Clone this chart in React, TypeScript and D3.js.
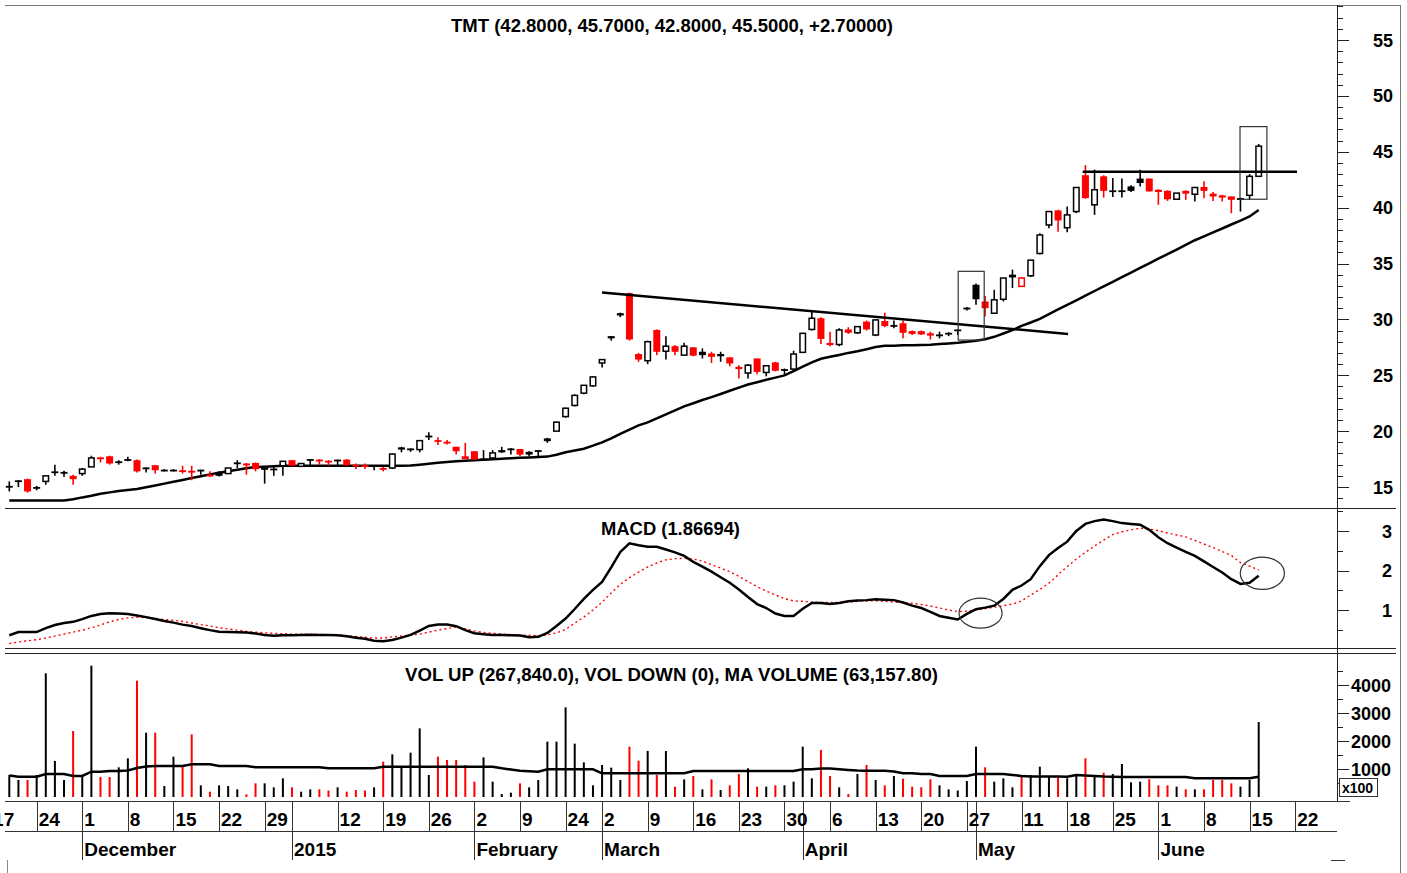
import React, { useEffect, useRef } from 'react';
import * as d3 from 'd3';

// daily bars, mid Nov 2014 .. 16 Jun 2015
const opens = [
  15.1, 15.6, 15.7, 15.0, 15.5, 16.4, 16.35, 16.0, 16.2, 16.8,
  17.65, 17.75, 17.3, 17.5, 17.4, 16.75, 16.95, 16.55, 16.55, 16.5,
  16.45, 16.55, 16.1, 16.35, 16.2, 17.2, 17.1, 17.15, 16.7, 16.65,
  16.9, 17.4, 16.85, 17.5, 17.45, 17.35, 17.45, 17.45, 17.0, 16.95,
  16.95, 16.7, 16.7, 18.55, 18.45, 18.35, 19.6, 19.2, 19.05, 18.6,
  17.75, 18.2, 17.55, 17.6, 18.3, 18.45, 18.4, 18.15, 18.3, 19.35,
  20.0, 21.3, 22.3, 23.4, 24.05, 26.1, 28.5, 30.55, 32.35, 26.9,
  26.3, 29.05, 27.15, 27.6, 26.8, 27.5, 27.1, 26.95, 26.9, 26.6,
  25.75, 25.2, 26.5, 25.25, 26.15, 25.55, 25.55, 27.05, 29.1, 30.1,
  27.9, 27.75, 29.1, 28.8, 29.8, 28.6, 29.85, 29.5, 29.65, 28.95,
  28.95, 28.75, 28.65, 28.8, 29.1, 31.05, 33.1, 31.6, 30.55, 31.8,
  34.0, 32.95, 33.9, 35.9, 38.45, 39.75, 38.2, 39.65, 42.9, 40.25,
  42.8, 41.55, 41.55, 41.9, 42.6, 42.6, 41.6, 41.5, 40.75, 41.5,
  41.2, 41.85, 41.25, 41.1, 41.0, 40.85, 41.1, 42.8,
];
const highs = [
  15.5, 15.6, 15.75, 15.1, 16.0, 17.0, 16.45, 16.1, 16.7, 17.8,
  17.7, 17.8, 17.4, 17.7, 17.45, 16.75, 16.95, 16.6, 16.6, 16.9,
  16.9, 16.55, 16.4, 16.4, 16.7, 17.4, 17.15, 17.2, 16.75, 16.8,
  17.3, 17.4, 17.1, 17.5, 17.5, 17.4, 17.45, 17.5, 17.1, 17.1,
  16.95, 16.8, 18.0, 18.6, 18.45, 19.2, 19.9, 19.45, 19.2, 18.6,
  18.95, 18.2, 18.3, 18.3, 18.6, 18.5, 18.4, 18.2, 18.3, 19.4,
  20.85, 22.1, 23.3, 24.1, 24.9, 26.4, 28.5, 30.6, 32.4, 27.0,
  28.1, 29.1, 28.5, 27.7, 27.9, 27.5, 27.4, 27.1, 27.1, 26.6,
  25.9, 26.0, 26.5, 25.9, 26.2, 25.6, 27.2, 28.8, 30.7, 30.2,
  28.9, 29.2, 29.3, 29.4, 29.9, 30.0, 30.6, 29.9, 29.9, 29.0,
  29.0, 28.9, 28.9, 28.85, 29.1, 31.1, 33.2, 32.1, 32.65, 33.7,
  34.45, 33.8, 35.3, 37.7, 39.7, 39.8, 40.1, 41.85, 43.8, 43.4,
  42.9, 42.65, 42.6, 42.0, 43.4, 42.6, 41.65, 41.55, 41.3, 41.55,
  41.85, 42.35, 41.4, 41.15, 41.0, 40.9, 43.0, 45.7,
];
const lows = [
  14.6, 15.0, 14.5, 14.7, 15.2, 16.0, 15.9, 15.2, 16.0, 16.8,
  17.2, 17.0, 17.0, 17.3, 16.3, 16.3, 16.2, 16.4, 16.4, 16.2,
  15.6, 16.1, 15.9, 15.95, 16.2, 16.7, 16.1, 16.4, 15.3, 16.0,
  16.0, 16.9, 16.8, 16.85, 17.0, 16.9, 16.85, 16.9, 16.6, 16.6,
  16.5, 16.4, 16.6, 18.1, 18.15, 18.1, 19.2, 18.75, 18.8, 17.9,
  17.5, 17.45, 17.45, 17.5, 18.05, 17.9, 17.75, 17.75, 17.75, 18.95,
  20.0, 21.2, 22.2, 23.3, 24.0, 25.7, 28.1, 30.2, 28.1, 26.2,
  26.0, 26.8, 26.4, 26.8, 26.8, 26.7, 26.5, 26.1, 26.2, 25.8,
  24.7, 24.7, 25.1, 24.9, 25.35, 25.1, 25.3, 27.0, 29.0, 27.8,
  27.6, 27.6, 28.7, 28.7, 29.0, 28.5, 29.3, 29.2, 28.3, 28.6,
  28.6, 28.2, 28.3, 28.5, 28.6, 30.8, 31.3, 30.25, 30.5, 31.6,
  32.8, 32.95, 33.8, 35.8, 38.15, 37.85, 37.8, 39.5, 40.8, 39.35,
  40.9, 40.95, 40.9, 41.4, 41.9, 41.45, 40.25, 40.6, 40.7, 40.7,
  40.55, 40.85, 40.6, 40.55, 39.5, 39.65, 40.7, 42.8,
];
const closes = [
  15.0, 15.55, 14.6, 14.9, 16.0, 16.3, 16.3, 15.7, 16.6, 17.6,
  17.5, 17.1, 17.15, 17.4, 16.4, 16.7, 16.5, 16.5, 16.5, 16.4,
  16.35, 16.5, 16.0, 16.0, 16.7, 17.1, 17.05, 16.6, 16.6, 16.6,
  17.3, 16.9, 17.1, 17.45, 17.35, 17.3, 17.4, 16.95, 16.9, 16.85,
  16.85, 16.6, 17.95, 18.35, 18.35, 19.15, 19.5, 19.05, 18.95, 18.2,
  17.5, 17.45, 17.5, 18.05, 18.1, 18.4, 17.9, 17.9, 18.25, 19.1,
  20.8, 22.05, 23.2, 24.1, 24.85, 26.4, 28.3, 30.35, 28.2, 26.4,
  28.0, 27.1, 27.6, 27.1, 27.6, 26.75, 26.8, 26.65, 26.7, 26.05,
  25.55, 25.9, 25.3, 25.85, 25.4, 25.4, 26.9, 28.75, 30.1, 28.25,
  27.7, 29.05, 28.8, 29.35, 29.1, 29.95, 29.4, 29.45, 28.8, 28.7,
  28.65, 28.55, 28.6, 28.65, 29.05, 30.9, 31.8, 31.0, 31.75, 33.7,
  33.75, 33.7, 35.3, 37.55, 39.65, 38.85, 39.35, 41.8, 40.85, 41.6,
  41.5, 41.5, 41.5, 41.5, 42.2, 41.45, 41.4, 40.75, 41.3, 41.25,
  41.8, 41.5, 41.0, 40.9, 40.7, 40.7, 42.8, 45.5,
];
// volume in hundreds of shares
const volumes = [
  786, 607, 607, 786, 4417, 1286, 607, 2357, 786, 4690,
  714, 714, 1060, 1381, 4155, 2298, 2298, 393, 1440, 1083,
  2238, 417, 190, 417, 393, 274, 95, 488, 488, 345,
  667, 345, 190, 274, 274, 231, 345, 190, 250, 231,
  345, 1262, 1524, 1060, 1583, 2452, 786, 1440, 1321, 1321,
  1143, 548, 1417, 548, 107, 155, 488, 345, 607, 1976,
  1976, 3202, 1905, 1238, 417, 1143, 1048, 607, 1798, 1298,
  1643, 786, 1643, 369, 631, 750, 274, 631, 250, 417,
  821, 1024, 369, 369, 417, 417, 548, 1798, 667, 1679,
  750, 345, 107, 821, 1143, 607, 417, 750, 655, 369,
  345, 631, 417, 274, 231, 571, 1798, 1060, 548, 667,
  345, 714, 786, 1083, 714, 690, 667, 786, 1381, 750,
  869, 821, 1179, 524, 548, 631, 417, 417, 369, 274,
  274, 274, 607, 607, 488, 369, 607, 2678.4,
];
const priceMA = [
  13.79, 13.79, 13.79, 13.79, 13.79, 13.79, 13.79, 13.91, 14.07, 14.21,
  14.39, 14.52, 14.65, 14.74, 14.82, 14.98, 15.14, 15.3, 15.47, 15.63,
  15.8, 15.96, 16.13, 16.28, 16.41, 16.55, 16.68, 16.79, 16.82, 16.86,
  16.9, 16.9, 16.9, 16.9, 16.9, 16.9, 16.9, 16.9, 16.9, 16.9,
  16.9, 16.9, 16.9, 16.9, 16.92, 17.0, 17.08, 17.16, 17.24, 17.31,
  17.35, 17.4, 17.44, 17.49, 17.53, 17.57, 17.61, 17.65, 17.68, 17.72,
  17.88, 18.11, 18.27, 18.43, 18.7, 19.0, 19.36, 19.76, 20.13, 20.51,
  20.78, 21.14, 21.49, 21.86, 22.21, 22.49, 22.78, 23.04, 23.32, 23.61,
  23.89, 24.17, 24.38, 24.59, 24.79, 24.99, 25.37, 25.77, 26.15, 26.47,
  26.65, 26.82, 27.0, 27.15, 27.33, 27.52, 27.63, 27.65, 27.68, 27.69,
  27.71, 27.74, 27.79, 27.85, 27.91, 27.99, 28.09, 28.22, 28.44, 28.74,
  29.04, 29.42, 29.72, 30.05, 30.47, 30.89, 31.3, 31.71, 32.12, 32.54,
  32.95, 33.36, 33.78, 34.19, 34.61, 35.02, 35.43, 35.84, 36.25, 36.66,
  37.08, 37.43, 37.78, 38.13, 38.49, 38.84, 39.21, 39.79,
];
const volumeMA = [
  768, 725, 725, 725, 821, 821, 821, 750, 750, 904,
  904, 929, 929, 946, 1036, 1089, 1107, 1107, 1107, 1107,
  1168, 1168, 1168, 1107, 1107, 1107, 1107, 1061, 1061, 1061,
  1061, 1061, 1061, 1061, 1061, 1025, 1025, 1025, 1025, 1025,
  1025, 1082, 1082, 1082, 1082, 1082, 1082, 1082, 1082, 1082,
  1082, 1082, 1082, 1082, 1025, 982, 939, 918, 904, 989,
  989, 989, 989, 989, 989, 846, 846, 846, 846, 846,
  846, 846, 846, 846, 846, 929, 929, 929, 929, 929,
  929, 929, 929, 929, 929, 929, 929, 989, 989, 1018,
  1018, 989, 964, 946, 939, 939, 939, 911, 846, 846,
  821, 821, 750, 750, 750, 750, 821, 821, 821, 821,
  786, 750, 732, 732, 732, 732, 725, 786, 768, 750,
  732, 725, 714, 714, 714, 714, 714, 714, 714, 714,
  668, 668, 668, 668, 668, 668, 668, 725,
];
const macdLine = [
  0.36, 0.44, 0.44, 0.44, 0.54, 0.62, 0.67, 0.7, 0.77, 0.85,
  0.9, 0.92, 0.91, 0.9, 0.86, 0.82, 0.77, 0.72, 0.68, 0.63,
  0.595, 0.54, 0.49, 0.45, 0.44, 0.435, 0.43, 0.405, 0.37, 0.35,
  0.36, 0.36, 0.37, 0.375, 0.37, 0.365, 0.36, 0.335, 0.3, 0.27,
  0.22, 0.21, 0.24, 0.3, 0.37, 0.48, 0.595, 0.63, 0.63, 0.59,
  0.49, 0.41, 0.385, 0.37, 0.365, 0.36, 0.355, 0.31, 0.32, 0.42,
  0.595, 0.785, 1.025, 1.28, 1.51, 1.71, 2.08, 2.47, 2.69, 2.64,
  2.6, 2.6, 2.53, 2.46, 2.37, 2.22, 2.1, 1.97, 1.83, 1.69,
  1.52, 1.33, 1.15, 1.05, 0.91, 0.85, 0.85, 1.03, 1.18, 1.18,
  1.15, 1.18, 1.22, 1.24, 1.25, 1.27, 1.26, 1.25, 1.19, 1.11,
  1.05, 0.95, 0.85, 0.805, 0.76, 0.9, 1.02, 1.06, 1.11, 1.28,
  1.51, 1.62, 1.78, 2.11, 2.39, 2.57, 2.73, 3.0, 3.18, 3.25,
  3.29, 3.25, 3.2, 3.18, 3.16, 3.03, 2.84, 2.69, 2.58, 2.47,
  2.37, 2.23, 2.09, 1.95, 1.78, 1.66, 1.69, 1.867,
];
const macdSignal = [
  0.15, 0.19, 0.22, 0.25, 0.29, 0.34, 0.39, 0.44, 0.49, 0.55,
  0.62, 0.7, 0.76, 0.8, 0.815, 0.81, 0.79, 0.76, 0.74, 0.71,
  0.67, 0.63, 0.595, 0.55, 0.52, 0.49, 0.46, 0.44, 0.42, 0.41,
  0.4, 0.39, 0.39, 0.38, 0.38, 0.37, 0.37, 0.35, 0.33, 0.31,
  0.29, 0.29, 0.32, 0.34, 0.37, 0.39, 0.44, 0.49, 0.53, 0.57,
  0.52, 0.47, 0.43, 0.41, 0.39, 0.38, 0.365, 0.355, 0.35, 0.37,
  0.42, 0.51, 0.67, 0.82, 1.0, 1.2, 1.43, 1.65, 1.82, 1.96,
  2.09, 2.19, 2.27, 2.3, 2.31, 2.29, 2.24, 2.15, 2.06, 1.97,
  1.85, 1.72, 1.59, 1.48, 1.38, 1.29, 1.23, 1.22, 1.2, 1.19,
  1.19, 1.19, 1.2, 1.22, 1.23, 1.23, 1.22, 1.2, 1.19, 1.17,
  1.14, 1.1, 1.05, 1.0, 0.96, 0.97, 1.0, 1.035, 1.07, 1.11,
  1.15, 1.23, 1.38, 1.52, 1.68, 1.89, 2.1, 2.29, 2.46, 2.62,
  2.77, 2.91, 2.98, 3.03, 3.07, 3.05, 3.01, 2.95, 2.9, 2.85,
  2.76, 2.67, 2.58, 2.48, 2.38, 2.2, 2.11, 2.01,
];

// date axis: first trading day of each week / month, as bar index
const weekLabels = ['17', '24', '1', '8', '15', '22', '29', '12', '19', '26', '2', '9', '24', '2', '9',
  '16', '23', '30', '6', '13', '20', '27', '11', '18', '25', '1', '8', '15', '22'];
const weekDays = [-2, 3, 8, 13, 18, 23, 28, 36, 41, 46, 51, 56, 61, 65, 70,
  75, 80, 85, 90, 95, 100, 105, 111, 116, 121, 126, 131, 136, 141];
const monthLabels = ['December', '2015', 'February', 'March', 'April', 'May', 'June'];
const monthDays = [8, 31, 51, 65, 87, 106, 126];

const priceTicks = [15, 20, 25, 30, 35, 40, 45, 50, 55];
const macdTicks = [1, 2, 3];
const volumeTicks = [1000, 2000, 3000, 4000];

// analyst drawings, in (bar index, value)
const declineLine: [number, number][] = [[65, 32.4], [116.1, 28.7]];
const resistanceLine: [number, number][] = [[117.7, 43.22], [141.2, 43.22]];
const highlightBoxes = [[104.05, 106.9, 34.3, 28.15], [134.95, 137.9, 47.25, 40.75]];
const macdCircles = [[106.5, 0.92, 2.36, 0.38], [137.4, 1.93, 2.42, 0.41]];

const RED = '#ff0000';
const FONT = '"Liberation Sans", Arial, Helvetica, sans-serif';

const StockChart: React.FC<{ width?: number; height?: number }> = ({ width = 1407, height = 873 }) => {
  const ref = useRef<SVGSVGElement | null>(null);

  useEffect(() => {
    if (!ref.current) return;
    const svg = d3.select(ref.current);
    svg.selectAll('*').remove();

    const left = 5, axisX = 1337, outerX = 1400;
    const n = closes.length;
    const idx = d3.range(n);

    const x = d3.scaleLinear().domain([0, n - 1]).range([9.3, 1258.7]);
    const yPrice = d3.scaleLinear().domain([15, 55]).range([487, 40]);
    const yMacd = d3.scaleLinear().domain([1, 3]).range([610, 531]);
    const yVol = d3.scaleLinear().domain([0, 4000]).range([797, 685]);

    const colorOf = (i: number) => (i > 0 && closes[i] < closes[i - 1] ? RED : '#000');

    svg.append('rect').attr('width', width).attr('height', height).attr('fill', '#fff');

    // frame
    const frame = svg.append('g').attr('stroke', '#333').attr('stroke-width', 1).attr('shape-rendering', 'crispEdges');
    const hl = (x1: number, x2: number, y: number, c = '#333') =>
      frame.append('line').attr('x1', x1).attr('x2', x2).attr('y1', y).attr('y2', y).attr('stroke', c);
    const vl = (xx: number, y1: number, y2: number, c = '#333') =>
      frame.append('line').attr('x1', xx).attr('x2', xx).attr('y1', y1).attr('y2', y2).attr('stroke', c);
    hl(left, outerX, 5, '#777');
    hl(left, 1396, 508, '#222');
    hl(left, 1396, 648, '#222');
    hl(left, 1396, 653, '#222');
    hl(left, 1350, 801);
    hl(left, axisX, 831);
    hl(1331, 1345, 860);
    vl(axisX, 5, 801, '#222');
    vl(outerX, 5, 873, '#777');
    vl(7, 860, 873, '#888');

    // titles
    const title = (txt: string, tx: number, ty: number, len: number) =>
      svg.append('text').attr('x', tx).attr('y', ty).attr('font-family', FONT).attr('font-weight', 'bold')
        .attr('font-size', 19).attr('textLength', len).attr('lengthAdjust', 'spacingAndGlyphs').attr('fill', '#000').text(txt);
    title('TMT (42.8000, 45.7000, 42.8000, 45.5000, +2.70000)', 451, 32, 442);
    title('MACD (1.86694)', 601, 535, 139);
    title('VOL UP (267,840.0), VOL DOWN (0), MA VOLUME (63,157.80)', 405, 681, 533);

    // right axis ticks + labels
    const axis = svg.append('g').attr('shape-rendering', 'crispEdges');
    const tickSet = (vals: number[], ys: (v: number) => number, isMajor: (v: number) => boolean) => {
      axis.append('g').selectAll('line').data(vals).join('line')
        .attr('x1', axisX).attr('x2', d => axisX + (isMajor(d) ? 12 : 6))
        .attr('y1', d => Math.round(ys(d)) + 0.5).attr('y2', d => Math.round(ys(d)) + 0.5)
        .attr('stroke', '#222').attr('stroke-width', 1);
    };
    tickSet(d3.range(14, 59), yPrice, d => d % 5 === 0);
    tickSet(d3.range(0.5, 4, 0.5), yMacd, d => d % 1 === 0);
    tickSet(d3.range(500, 5000, 500), yVol, d => d % 1000 === 0);

    const labels = (vals: number[], ys: (v: number) => number, rx: number) =>
      svg.append('g').selectAll('text').data(vals).join('text')
        .attr('x', rx).attr('y', d => ys(d) + 6.5).attr('text-anchor', 'end')
        .attr('font-family', FONT).attr('font-weight', 'bold').attr('font-size', 18).attr('fill', '#000')
        .text(d => String(d));
    labels(priceTicks, yPrice, 1393);
    labels(macdTicks, yMacd, 1392);
    labels(volumeTicks, yVol, 1391);

    svg.append('rect').attr('x', 1339.5).attr('y', 778.5).attr('width', 38).attr('height', 18)
      .attr('fill', '#fff').attr('stroke', '#333').attr('stroke-width', 1);
    svg.append('text').attr('x', 1342).attr('y', 793).attr('font-family', FONT).attr('font-weight', 'bold')
      .attr('font-size', 14).text('x100');

    // date axis
    const dates = svg.append('g').attr('shape-rendering', 'crispEdges');
    dates.selectAll('line.week').data(weekDays).join('line').attr('class', 'week')
      .attr('x1', d => Math.round(x(d)) + 0.5).attr('x2', d => Math.round(x(d)) + 0.5)
      .attr('y1', 801).attr('y2', 831).attr('stroke', '#333');
    dates.selectAll('line.month').data(monthDays).join('line').attr('class', 'month')
      .attr('x1', d => Math.round(x(d)) + 0.5).attr('x2', d => Math.round(x(d)) + 0.5)
      .attr('y1', 801).attr('y2', 860).attr('stroke', '#333');
    svg.append('g').selectAll('text').data(weekLabels).join('text')
      .attr('x', (_, i) => x(weekDays[i]) + 2).attr('y', 826)
      .attr('font-family', FONT).attr('font-weight', 'bold').attr('font-size', 19).text(d => d);
    svg.append('g').selectAll('text').data(monthLabels).join('text')
      .attr('x', (_, i) => x(monthDays[i]) + 2).attr('y', 856)
      .attr('font-family', FONT).attr('font-weight', 'bold').attr('font-size', 19).text(d => d);

    // price panel
    const price = svg.append('g');
    price.append('path').datum(priceMA)
      .attr('d', d3.line<number>().x((_, i) => x(i)).y(d => yPrice(d)))
      .attr('fill', 'none').attr('stroke', '#000').attr('stroke-width', 2.5);

    price.append('g').selectAll('line').data(idx).join('line')
      .attr('x1', i => x(i)).attr('x2', i => x(i))
      .attr('y1', i => yPrice(highs[i])).attr('y2', i => yPrice(lows[i]))
      .attr('stroke', i => colorOf(i)).attr('stroke-width', 1.6);

    price.append('g').selectAll('rect').data(idx).join('rect')
      .attr('x', i => (closes[i] > opens[i] ? x(i) - 2.75 : x(i) - 3.5))
      .attr('width', i => (closes[i] > opens[i] ? 5.5 : 7))
      .attr('y', i => yPrice(Math.max(opens[i], closes[i])))
      .attr('height', i => Math.max(1.8, Math.abs(yPrice(opens[i]) - yPrice(closes[i]))))
      .attr('fill', i => (closes[i] > opens[i] ? '#fff' : colorOf(i)))
      .attr('stroke', i => (closes[i] > opens[i] ? colorOf(i) : 'none'))
      .attr('stroke-width', 1.5);

    const lineGen = d3.line<[number, number]>().x(d => x(d[0])).y(d => yPrice(d[1]));
    price.append('path').datum(declineLine).attr('d', lineGen)
      .attr('stroke', '#000').attr('stroke-width', 2.5).attr('fill', 'none');
    price.append('path').datum(resistanceLine).attr('d', lineGen)
      .attr('stroke', '#000').attr('stroke-width', 2.5).attr('fill', 'none');
    price.append('g').selectAll('rect').data(highlightBoxes).join('rect')
      .attr('x', d => x(d[0])).attr('width', d => x(d[1]) - x(d[0]))
      .attr('y', d => yPrice(d[2])).attr('height', d => yPrice(d[3]) - yPrice(d[2]))
      .attr('fill', 'none').attr('stroke', '#333').attr('stroke-width', 1.2);

    // MACD panel
    const macd = svg.append('g');
    macd.append('path').datum(macdSignal)
      .attr('d', d3.line<number>().x((_, i) => x(i)).y(d => yMacd(d)))
      .attr('fill', 'none').attr('stroke', RED).attr('stroke-width', 1.4).attr('stroke-dasharray', '2,3');
    macd.append('path').datum(macdLine)
      .attr('d', d3.line<number>().x((_, i) => x(i)).y(d => yMacd(d)))
      .attr('fill', 'none').attr('stroke', '#000').attr('stroke-width', 2.5);
    macd.append('g').selectAll('ellipse').data(macdCircles).join('ellipse')
      .attr('cx', d => x(d[0])).attr('cy', d => yMacd(d[1]))
      .attr('rx', d => x(d[0] + d[2]) - x(d[0])).attr('ry', d => yMacd(d[1]) - yMacd(d[1] + d[3]))
      .attr('fill', 'none').attr('stroke', '#333').attr('stroke-width', 1.2);

    // volume panel
    const vol = svg.append('g');
    vol.append('g').selectAll('rect').data(idx).join('rect')
      .attr('x', i => x(i) - 1).attr('width', 2)
      .attr('y', i => yVol(volumes[i])).attr('height', i => yVol(0) - yVol(volumes[i]))
      .attr('fill', i => colorOf(i));
    vol.append('path').datum(volumeMA)
      .attr('d', d3.line<number>().x((_, i) => x(i)).y(d => yVol(d)))
      .attr('fill', 'none').attr('stroke', '#000').attr('stroke-width', 2.5);
  }, [width, height]);

  return <svg ref={ref} width={width} height={height} style={{ position: 'absolute', left: 0, top: 0 }} />;
};

export default function App() {
  return <StockChart />;
}
